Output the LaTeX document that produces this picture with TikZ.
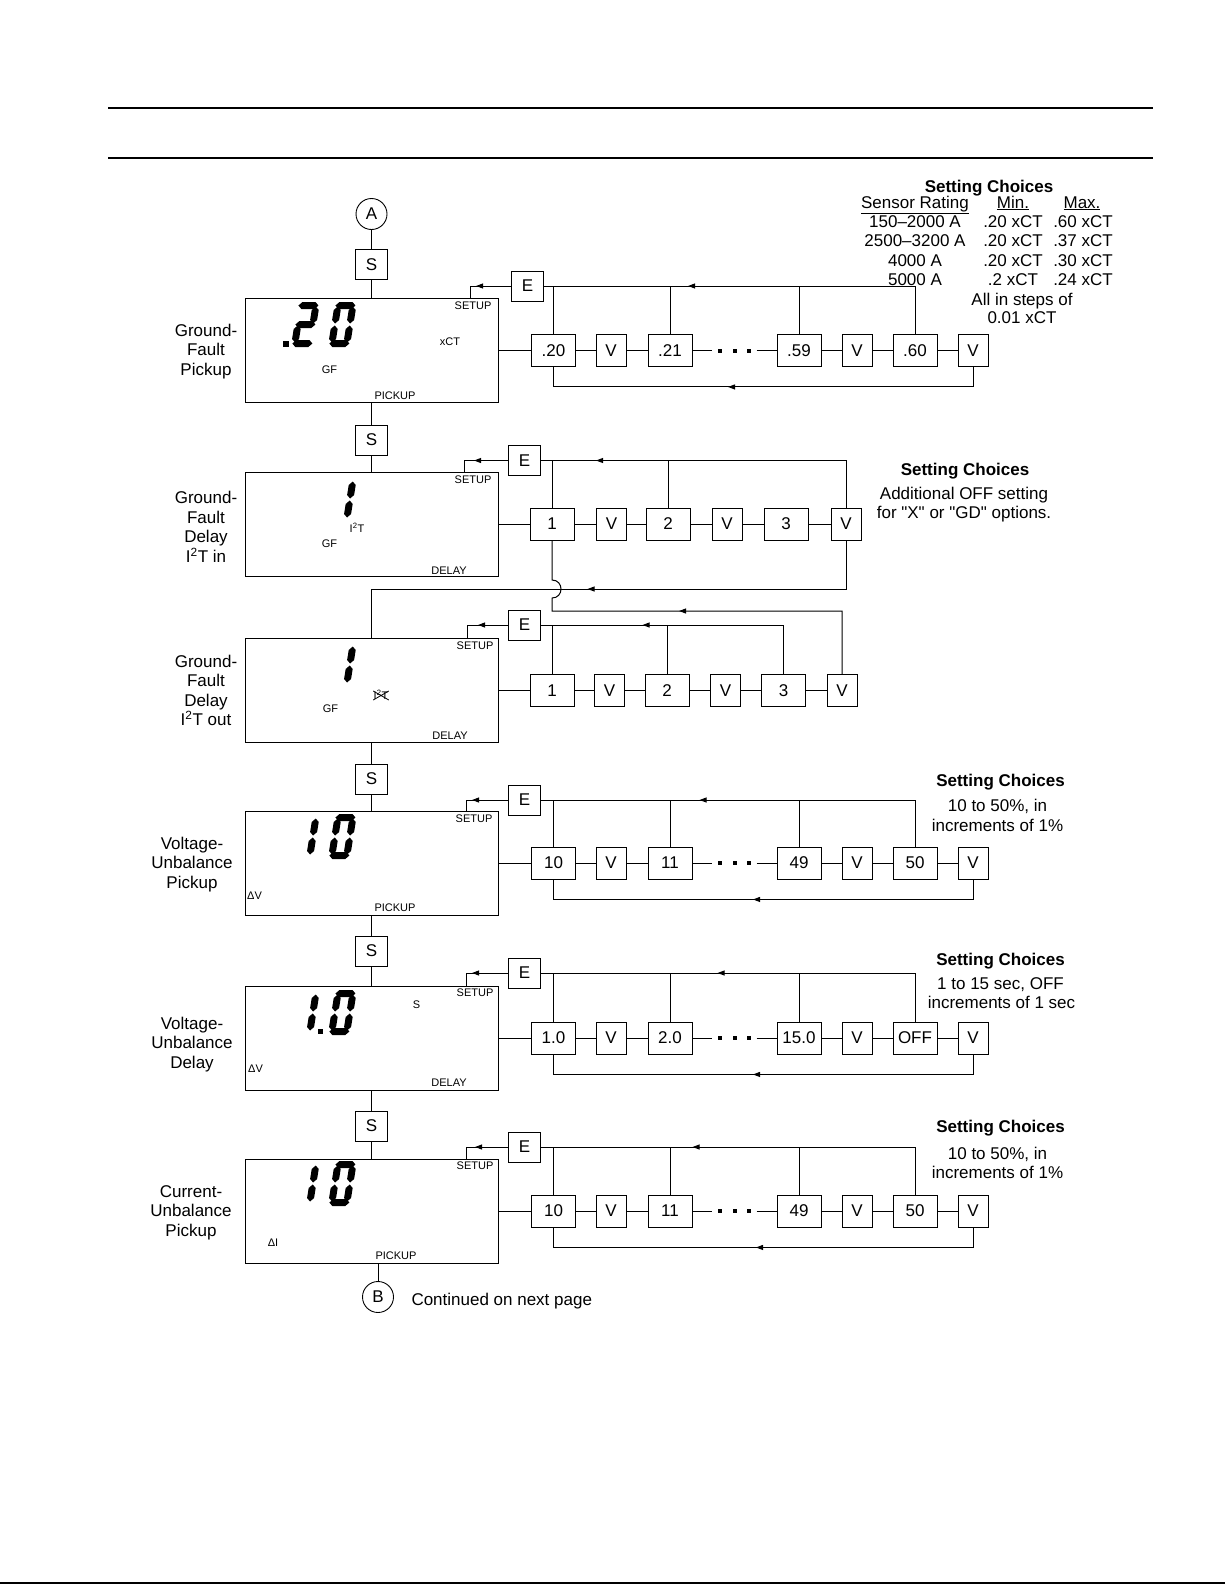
\documentclass[tikz,border=0pt]{standalone}
\usepackage{fontspec}
\setmainfont{Liberation Sans}
\usetikzlibrary{arrows.meta,decorations.markings}

% seven-segment digit: top-left corner, list of lit segments
\newcommand\segdigit[3]{%
  \begin{scope}[shift={(#1,#2)}, xslant=0.16]
    \foreach \s in {#3} {\fill[seg\s];}
  \end{scope}}

\begin{document}
\begin{tikzpicture}[x=1pt, y=-1pt, line width=1pt,
    lcd/.style={draw, line width=1pt, minimum width=253pt, minimum height=104pt, inner sep=0pt},
    key/.style={draw, line width=0.9pt, minimum width=32pt, minimum height=30pt,
      inner sep=0pt, font=\fontsize{17}{20}\selectfont},
    valbox/.style={key, minimum width=44pt, minimum height=32pt},
    vbox/.style={key, minimum width=30pt, minimum height=32pt},
    conn/.style={circle, draw, line width=0.9pt, minimum size=31pt, inner sep=0pt,
      font=\fontsize{17}{20}\selectfont},
    lbl/.style={align=center, inner sep=0pt, font=\fontsize{17}{19.5}\selectfont},
    txt/.style={inner sep=0pt, text height=12pt, text depth=0pt, font=\fontsize{17}{19}\selectfont},
    head/.style={txt, font=\fontsize{17}{19}\selectfont\bfseries},
    tiny/.style={inner sep=0pt, text height=8pt, text depth=0pt, font=\fontsize{11}{13}\selectfont},
    flowtip/.style={postaction={decorate}, decoration={markings,
      mark=at position #1pt with {\arrow{Triangle[length=7pt,width=5pt]}}}},
    sega/.style={insert path={(1,3.5)--(4.5,0)--(17.5,0)--(21,3.5)--(17.5,7)--(4.5,7)--cycle}},
    segg/.style={insert path={(1,22.5)--(4.5,19)--(17.5,19)--(21,22.5)--(17.5,26)--(4.5,26)--cycle}},
    segd/.style={insert path={(1,41.5)--(4.5,38)--(17.5,38)--(21,41.5)--(17.5,45)--(4.5,45)--cycle}},
    segf/.style={insert path={(3.5,4.5)--(7,8)--(7,18)--(3.5,21.5)--(0,18)--(0,8)--cycle}},
    segb/.style={insert path={(18.5,4.5)--(22,8)--(22,18)--(18.5,21.5)--(15,18)--(15,8)--cycle}},
    sege/.style={insert path={(3.5,23.5)--(7,27)--(7,37)--(3.5,40.5)--(0,37)--(0,27)--cycle}},
    segc/.style={insert path={(18.5,23.5)--(22,27)--(22,37)--(18.5,40.5)--(15,37)--(15,27)--cycle}}]
  \useasboundingbox (0,0) rectangle (1225,1585);

  % Page rules
  \draw[line width=1.3pt] (108,108) -- (1153,108);
  \draw[line width=1.3pt] (108,158) -- (1153,158);
  \draw[line width=2pt] (0,1583) -- (1225,1583);

  % Left column: connectors, S keys and displays
  \node[conn] (ca) at (371.5,214) {A};
  \node[key] (s1) at (371.5,264.5) {S};
  \node[lcd] (lcd1) at (371.5,350.5) {};
  \node[key] (s2) at (371.5,440) {S};
  \node[lcd] (lcd2) at (371.5,524) {};
  \node[lcd] (lcd3) at (371.5,690.5) {};
  \node[key] (s4) at (371.5,779) {S};
  \node[lcd] (lcd4) at (371.5,863) {};
  \node[key] (s5) at (371.5,951) {S};
  \node[lcd] (lcd5) at (371.5,1038) {};
  \node[key] (s6) at (371.5,1126) {S};
  \node[lcd] (lcd6) at (371.5,1211) {};
  \node[conn] (cb) at (378,1297) {B};
  \draw (ca) -- (s1) -- (lcd1) -- (s2) -- (lcd2);
  \draw (lcd3) -- (s4) -- (lcd4) -- (s5) -- (lcd5) -- (s6) -- (lcd6);
  \draw (lcd6.south -| cb) -- (cb);
  \node[txt, anchor=west] (cont) at (411,1299) {Continued on next page};

  % Function names
  \node[lbl] (l1) at (206,351.5) {Ground-\\Fault\\Pickup};
  \node[lbl] (l2) at (206,527) {Ground-\\Fault\\Delay\\I\textsuperscript{2}T in};
  \node[lbl] (l3) at (206,690.5) {Ground-\\Fault\\Delay\\I\textsuperscript{2}T out};
  \node[lbl] (l4) at (192,864.5) {Voltage-\\Unbalance\\Pickup};
  \node[lbl] (l5) at (192,1044.5) {Voltage-\\Unbalance\\Delay};
  \node[lbl] (l6) at (191,1212.5) {Current-\\Unbalance\\Pickup};

  % Display contents
  \fill (283,341) rectangle (289,347);
  \segdigit{298}{302}{a,b,g,e,d}
  \segdigit{335}{302}{a,b,c,d,e,f}
  \node[tiny] (t1a) at (473,305.5) {SETUP};
  \node[tiny] (t1b) at (450,341.5) {xCT};
  \node[tiny] (t1c) at (329.5,369) {GF};
  \node[tiny] (t1d) at (395,395) {PICKUP};

  \segdigit{335}{477}{b,c}
  \node[tiny] (t2a) at (473,479) {SETUP};
  \node[tiny] (t2b) at (357,528.5) {I\textsuperscript{2}T};
  \node[tiny] (t2c) at (329.5,543.5) {GF};
  \node[tiny] (t2d) at (449,570) {DELAY};

  \segdigit{335}{642}{b,c}
  \node[tiny] (t3a) at (475,645) {SETUP};
  \node[tiny] (t3b) at (381,695.5) {I\textsuperscript{2}T};
  \draw[line width=0.8pt] (t3b.north west) -- (t3b.south east) (t3b.south west) -- (t3b.north east);
  \node[tiny] (t3c) at (330.5,708.5) {GF};
  \node[tiny] (t3d) at (450,735) {DELAY};

  \segdigit{298}{814}{b,c}
  \segdigit{335}{814}{a,b,c,d,e,f}
  \node[tiny] (t4a) at (474,818.5) {SETUP};
  \node[tiny] (t4b) at (254.5,895.5) {ΔV};
  \node[tiny] (t4c) at (395,907.5) {PICKUP};

  \segdigit{298}{990}{b,c}
  \fill (318,1029) rectangle (323,1034);
  \segdigit{335}{990}{a,b,c,d,e,f}
  \node[tiny] (t5a) at (475,992.5) {SETUP};
  \node[tiny] (t5b) at (416.5,1004.5) {S};
  \node[tiny] (t5c) at (255.5,1068.5) {ΔV};
  \node[tiny] (t5d) at (449,1082.5) {DELAY};

  \segdigit{298}{1161}{b,c}
  \segdigit{335}{1161}{a,b,c,d,e,f}
  \node[tiny] (t6a) at (475,1165) {SETUP};
  \node[tiny] (t6b) at (273,1242) {ΔI};
  \node[tiny] (t6c) at (396,1255) {PICKUP};

  % Value chains with ellipsis (rows 1, 4, 5, 6)
  \foreach \row/\yy/\ey/\ex/\sx/\sy/\va/\vb/\vc/\vd/\ta/\tb/\tc in {
      1/350.5/286/527.5/470/298.5/.20/.21/.59/.60/275/265/35,
      4/863/800/524.5/466/811/10/11/49/50/262/240/36,
      5/1038/973/524.5/466/986/1.0/2.0/15.0/OFF/246/240/36,
      6/1211/1147/524.5/466/1159/10/11/49/50/270/237/33} {
    \node[valbox] (r\row a) at (553.5,\yy) {\va};
    \node[vbox]   (r\row b) at (611,\yy)   {V};
    \node[valbox] (r\row c) at (670,\yy)   {\vb};
    \node[valbox] (r\row d) at (799,\yy)   {\vc};
    \node[vbox]   (r\row e) at (857,\yy)   {V};
    \node[valbox] (r\row f) at (915,\yy)   {\vd};
    \node[vbox]   (r\row g) at (973,\yy)   {V};
    \node[key]    (e\row)   at (\ex,\ey)   {E};
    \coordinate (su\row) at (\sx,\sy);
    \draw (lcd\row.east) -- (r\row a) -- (r\row b) -- (r\row c);
    \draw (r\row c.east) -- ++(20,0);
    \foreach \dx in {28,42.5,57}
      \fill ([xshift=\dx pt]r\row c.east) ++(-2,-2) rectangle ++(4,4);
    \draw ([xshift=-20pt]r\row d.west) -- (r\row d) -- (r\row e) -- (r\row f) -- (r\row g);
    \foreach \n in {a,c,d}
      \draw (r\row\n.north) -- (r\row\n.north |- e\row.east);
    \draw[flowtip=\ta] (r\row f.north) |- (e\row.east);
    \draw[flowtip=\tb] (r\row g.south) |- ([yshift=-20pt]r\row a.south) -- (r\row a.south);
    \draw[flowtip=\tc] (e\row.west) -| (su\row);
  }

  % Row 2: delay bands, I2T in
  \node[valbox] (r2a) at (552,524) {1};
  \node[vbox]   (r2b) at (611.5,524) {V};
  \node[valbox] (r2c) at (668,524) {2};
  \node[vbox]   (r2d) at (727,524) {V};
  \node[valbox] (r2e) at (786,524) {3};
  \node[vbox]   (r2f) at (846,524) {V};
  \node[key]    (e2)  at (524.5,460.5) {E};
  \coordinate (su2) at (464,472);
  \coordinate (q2) at (371.5,589);
  \draw (lcd2.east) -- (r2a) -- (r2b) -- (r2c) -- (r2d) -- (r2e) -- (r2f);
  \draw (r2a.north) -- (r2a.north |- e2.east);
  \draw (r2c.north) -- (r2c.north |- e2.east);
  \draw[flowtip=297] (r2f.north) |- (e2.east);
  \draw[flowtip=34] (e2.west) -| (su2);
  \draw[flowtip=307] (r2f.south) |- (q2) -- (lcd3.north);

  % Row 3: delay bands, I2T out
  \node[valbox] (r3a) at (552,690.5) {1};
  \node[vbox]   (r3b) at (609.5,690.5) {V};
  \node[valbox] (r3c) at (667,690.5) {2};
  \node[vbox]   (r3d) at (725.5,690.5) {V};
  \node[valbox] (r3e) at (783.5,690.5) {3};
  \node[vbox]   (r3f) at (842,690.5) {V};
  \node[key]    (e3)  at (524.5,625) {E};
  \coordinate (su3) at (467,638.5);
  \coordinate (q3) at (552,611);
  \coordinate (h1) at (552,598);
  \coordinate (h2) at (552,580);
  \draw (lcd3.east) -- (r3a) -- (r3b) -- (r3c) -- (r3d) -- (r3e) -- (r3f);
  \draw (r3a.north) -- (r3a.north |- e3.east);
  \draw (r3c.north) -- (r3c.north |- e3.east);
  \draw[flowtip=190] (r3e.north) |- (e3.east);
  \draw[flowtip=30] (e3.west) -| (su3);
  \draw[flowtip=226] (r3f.north) |- (q3) -- (h1) .. controls (564,598) and (564,580) .. (h2) -- (r2a.south);

  % Setting choices
  \node[head] (sc1) at (989,186) {Setting Choices};
  \node[txt] (sc1a) at (915,202) {\underline{Sensor Rating}};
  \node[txt] (sc1b) at (1013,202) {\underline{Min.}};
  \node[txt] (sc1c) at (1082,202) {\underline{Max.}};
  \foreach \yy/\sr/\mn/\mx [count=\i] in {221/150\textendash2000 A/.20 xCT/.60 xCT,
      240.5/2500\textendash3200 A/.20 xCT/.37 xCT, 260/4000 A/.20 xCT/.30 xCT,
      279/5000 A/.2 xCT/.24 xCT} {
    \node[txt] (sr\i) at (915,\yy) {\sr};
    \node[txt] (mn\i) at (1013,\yy) {\mn};
    \node[txt] (mx\i) at (1083,\yy) {\mx};
  }
  \node[txt] (sc1d) at (1022,299) {All in steps of};
  \node[txt] (sc1e) at (1022,317.5) {0.01 xCT};

  \node[head] (sc2) at (965,469) {Setting Choices};
  \node[txt] (sc2a) at (964,493) {Additional OFF setting};
  \node[txt] (sc2b) at (964,512) {for \textquotedbl X\textquotedbl{} or \textquotedbl GD\textquotedbl{} options.};

  \node[head] (sc4) at (1000.5,780) {Setting Choices};
  \node[txt] (sc4a) at (997.5,805.5) {10 to 50\%, in};
  \node[txt] (sc4b) at (997.5,825) {increments of 1\%};

  \node[head] (sc5) at (1000.5,959) {Setting Choices};
  \node[txt] (sc5a) at (1000.5,983.5) {1 to 15 sec, OFF};
  \node[txt] (sc5b) at (1001.5,1002.5) {increments of 1 sec};

  \node[head] (sc6) at (1000.5,1126) {Setting Choices};
  \node[txt] (sc6a) at (997.5,1153) {10 to 50\%, in};
  \node[txt] (sc6b) at (997.5,1172.5) {increments of 1\%};
\end{tikzpicture}
\end{document}
